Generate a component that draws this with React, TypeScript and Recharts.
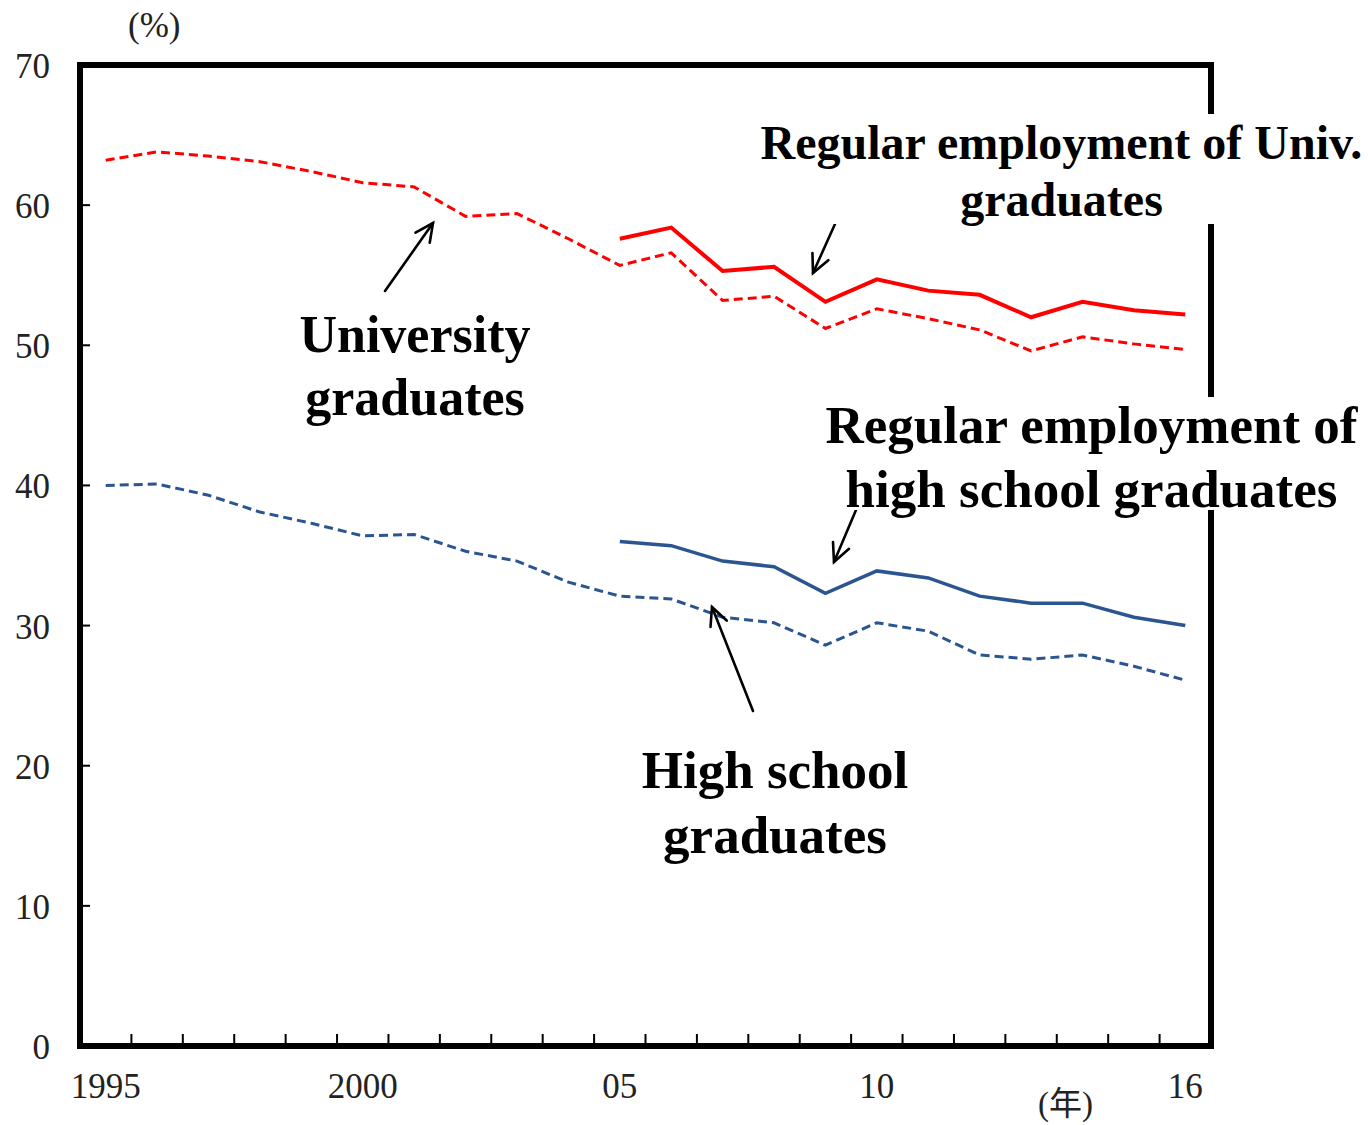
import React from 'react'
import { LineChart, Line, XAxis, YAxis, ReferenceArea } from 'recharts'

const years = [1995, 1996, 1997, 1998, 1999, 2000, 2001, 2002, 2003, 2004, 2005, 2006, 2007, 2008, 2009, 2010, 2011, 2012, 2013, 2014, 2015, 2016]

// all graduates (dashed)
const univAll = [63.2, 63.8, 63.5, 63.1, 62.4, 61.6, 61.3, 59.2, 59.4, 57.6, 55.7, 56.6, 53.2, 53.5, 51.2, 52.6, 51.9, 51.1, 49.6, 50.6, 50.1, 49.7]
const hsAll = [40.0, 40.1, 39.3, 38.1, 37.3, 36.4, 36.5, 35.3, 34.6, 33.1, 32.1, 31.9, 30.6, 30.2, 28.6, 30.2, 29.6, 27.9, 27.6, 27.9, 27.1, 26.1]

// regular employment (solid), from 2005
const univRegular = [null, null, null, null, null, null, null, null, null, null, 57.6, 58.4, 55.3, 55.6, 53.1, 54.7, 53.9, 53.6, 52.0, 53.1, 52.5, 52.2]
const hsRegular = [null, null, null, null, null, null, null, null, null, null, 36.0, 35.7, 34.6, 34.2, 32.3, 33.9, 33.4, 32.1, 31.6, 31.6, 30.6, 30.0]

const yTicks = [0, 10, 20, 30, 40, 50, 60, 70]
const xLabels: Record<number, string> = { 1995: '1995', 2000: '2000', 2005: '05', 2010: '10', 2016: '16' }

const data = years.map((year, i) => ({
  year,
  univAll: univAll[i],
  hsAll: hsAll[i],
  univRegular: univRegular[i],
  hsRegular: hsRegular[i],
}))

const W = 1368
const H = 1125
const PLOT_W = 1131
const STEP = PLOT_W / years.length

const RED = '#ff0000'
const BLUE = '#2a5590'
const tickFont = '"Liberation Serif", "Noto Sans CJK JP", serif'
const labelFont = '"Liberation Serif", "Times New Roman", serif'

const XTick = (props: any) => {
  const { x, y, payload } = props
  const label = xLabels[payload.value]
  return (
    <g>
      {payload.value < 2016 && (
        <line x1={x + STEP / 2} x2={x + STEP / 2} y1={y - 12} y2={y} stroke="#000" strokeWidth={2} />
      )}
      {label && (
        <text x={x} y={y + 52} textAnchor="middle" fontSize={35} fontFamily={tickFont} fill="#222">
          {label}
        </text>
      )}
    </g>
  )
}

const YTick = (props: any) => {
  const { x, y, payload } = props
  return (
    <g>
      <line x1={x} x2={x + 10} y1={y} y2={y} stroke="#000" strokeWidth={2} />
      <text x={x - 30} y={y + 13} textAnchor="end" fontSize={35} fontFamily={tickFont} fill="#222">
        {payload.value}
      </text>
    </g>
  )
}

const Arrow = ({ from, to }: { from: [number, number]; to: [number, number] }) => {
  const ang = Math.atan2(to[1] - from[1], to[0] - from[0])
  const len = 20
  const spread = 0.45
  const a1: [number, number] = [to[0] - len * Math.cos(ang - spread), to[1] - len * Math.sin(ang - spread)]
  const a2: [number, number] = [to[0] - len * Math.cos(ang + spread), to[1] - len * Math.sin(ang + spread)]
  return (
    <g stroke="#000" strokeWidth={2.6} fill="none" strokeLinecap="round">
      <line x1={from[0]} y1={from[1]} x2={to[0]} y2={to[1]} />
      <polyline points={`${a1[0]},${a1[1]} ${to[0]},${to[1]} ${a2[0]},${a2[1]}`} />
    </g>
  )
}

const boxStyle: React.CSSProperties = {
  position: 'absolute',
  background: '#fff',
  fontFamily: labelFont,
  fontWeight: 'bold',
  color: '#000',
  textAlign: 'center',
  whiteSpace: 'nowrap',
}

const App = () => {
  return (
    <div style={{ position: 'absolute', left: 0, top: 0, width: W, height: H, background: '#fff', overflow: 'hidden' }}>
      <LineChart width={W} height={H} data={data} margin={{ top: 65, right: 157, bottom: 0, left: 0 }}>
        <XAxis
          dataKey="year"
          type="number"
          domain={[1994.5, 2016.5]}
          ticks={years}
          interval={0}
          axisLine={false}
          tickLine={false}
          tickSize={0}
          tickMargin={0}
          height={79}
          tick={<XTick />}
        />
        <YAxis
          domain={[0, 70]}
          ticks={yTicks}
          interval={0}
          axisLine={false}
          tickLine={false}
          tickSize={0}
          tickMargin={0}
          width={80}
          tick={<YTick />}
        />
        <ReferenceArea x1={1994.5} x2={2016.5} y1={0} y2={70} fill="none" stroke="#000" strokeWidth={6} />
        <Line dataKey="univAll" stroke={RED} strokeWidth={3} strokeDasharray="9 5" dot={false} isAnimationActive={false} />
        <Line dataKey="univRegular" stroke={RED} strokeWidth={4} dot={false} isAnimationActive={false} />
        <Line dataKey="hsAll" stroke={BLUE} strokeWidth={3} strokeDasharray="9 5" dot={false} isAnimationActive={false} />
        <Line dataKey="hsRegular" stroke={BLUE} strokeWidth={3.5} dot={false} isAnimationActive={false} />
      </LineChart>

      <div style={{ position: 'absolute', left: 128, top: 8, fontSize: 35, lineHeight: '36px', fontFamily: tickFont, color: '#222' }}>(%)</div>
      <div style={{ position: 'absolute', left: 1038, top: 1086, fontSize: 33, lineHeight: '36px', fontFamily: tickFont, color: '#222' }}>(年)</div>

      <svg width={W} height={H} style={{ position: 'absolute', left: 0, top: 0, pointerEvents: 'none' }}>
        <Arrow from={[385, 291]} to={[433, 223]} />
        <Arrow from={[835, 224]} to={[813, 273]} />
        <Arrow from={[856, 510]} to={[834, 562]} />
        <Arrow from={[753, 711]} to={[712, 607]} />
      </svg>

      <div style={{ ...boxStyle, left: 755, top: 114, width: 613, height: 110, fontSize: 48, lineHeight: '57px' }}>
        Regular employment of Univ.
        <br />
        graduates
      </div>
      <div style={{ ...boxStyle, left: 815, top: 397, width: 553, height: 113, fontSize: 53, lineHeight: '64px' }}>
        <div style={{ position: 'relative', top: -4 }}>
          Regular employment of
          <br />
          high school graduates
        </div>
      </div>
      <div style={{ ...boxStyle, left: 280, top: 303, width: 270, fontSize: 52, lineHeight: '63px', background: 'transparent' }}>
        University
        <br />
        graduates
      </div>
      <div style={{ ...boxStyle, left: 625, top: 738, width: 300, fontSize: 53, lineHeight: '65px', background: 'transparent' }}>
        High school
        <br />
        graduates
      </div>
    </div>
  )
}

export default App
